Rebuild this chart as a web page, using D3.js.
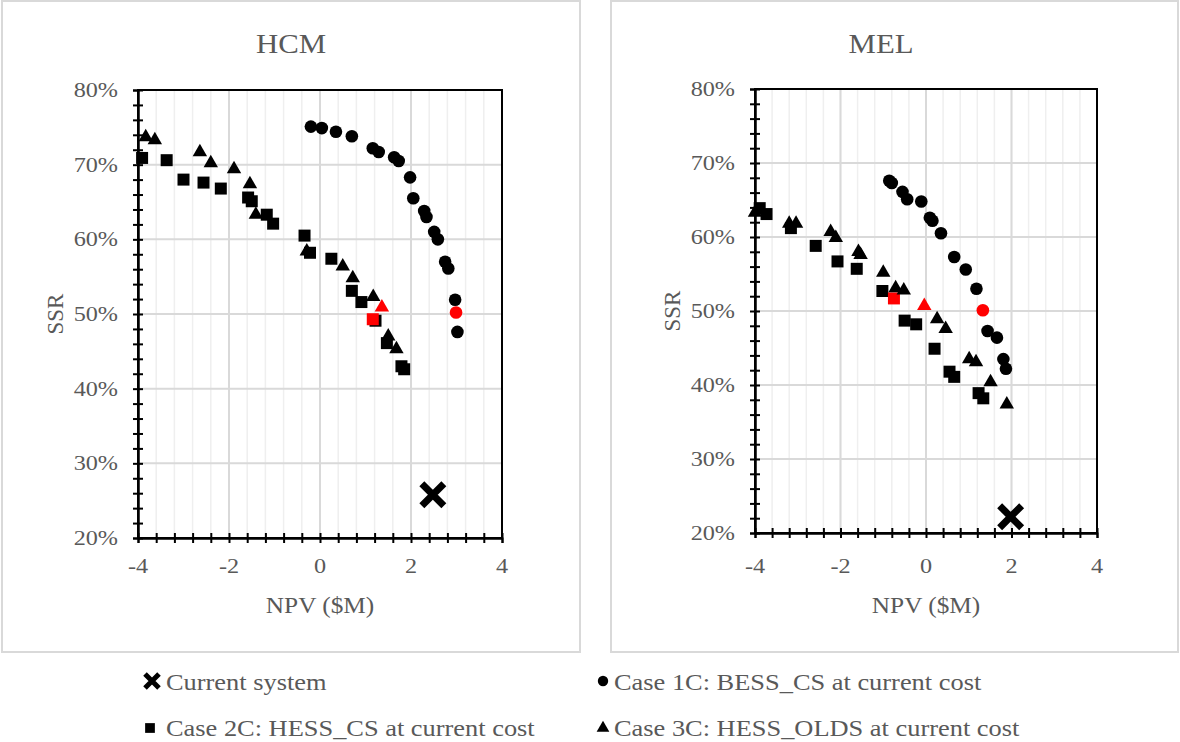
<!DOCTYPE html>
<html>
<head>
<meta charset="utf-8">
<script src="https://cdn.jsdelivr.net/npm/d3@7"></script>
<style>
  body { margin: 0; background: #fff; }
  text { font-family: "Liberation Serif", "Times New Roman", serif; fill: #595959; }
</style>
</head>
<body>
<svg id="chart" width="1180" height="742"></svg>
<script>
// NPV ($M), SSR (fraction)
const hcmCurrent = [[2.48, 0.258]];
const hcmCase1C = [[-0.20,0.751],[0.04,0.749],[0.35,0.744],[0.70,0.738],[1.16,0.722],[1.29,0.717],
  [1.63,0.710],[1.73,0.705],[1.98,0.683],[2.05,0.655],[2.29,0.638],[2.34,0.630],[2.51,0.610],
  [2.59,0.600],[2.75,0.570],[2.82,0.561],[2.97,0.519],[3.02,0.476]];
const hcmCase1CRed = [[2.99,0.502]];
const hcmCase2C = [[-3.91,0.709],[-3.37,0.706],[-3.00,0.680],[-2.56,0.676],[-2.18,0.668],[-1.58,0.656],
  [-1.50,0.651],[-1.17,0.633],[-1.03,0.621],[-0.34,0.605],[-0.22,0.582],[0.25,0.574],[0.70,0.531],
  [0.91,0.516],[1.22,0.491],[1.47,0.461],[1.79,0.430],[1.85,0.426]];
const hcmCase2CRed = [[1.16,0.493]];
const hcmCase3C = [[-3.83,0.737],[-3.63,0.733],[-2.64,0.717],[-2.40,0.702],[-1.89,0.694],[-1.54,0.674],
  [-1.41,0.633],[-0.29,0.584],[0.50,0.564],[0.72,0.548],[1.17,0.523],[1.50,0.470],[1.68,0.453]];
const hcmCase3CRed = [[1.36,0.509]];

const melCurrent = [[1.98, 0.222]];
const melCase1C = [[-0.86,0.676],[-0.80,0.673],[-0.55,0.661],[-0.44,0.651],[-0.11,0.648],[0.09,0.626],
  [0.15,0.622],[0.35,0.605],[0.66,0.573],[0.93,0.556],[1.18,0.530],[1.44,0.473],[1.66,0.464],
  [1.81,0.435],[1.87,0.422]];
const melCase1CRed = [[1.33,0.501]];
const melCase2C = [[-3.89,0.639],[-3.73,0.631],[-3.16,0.612],[-2.58,0.588],[-2.07,0.567],[-1.62,0.557],
  [-1.02,0.527],[-0.50,0.487],[-0.23,0.482],[0.20,0.449],[0.55,0.418],[0.66,0.411],[1.23,0.389],[1.34,0.382]];
const melCase2CRed = [[-0.75,0.517]];
const melCase3C = [[-4.00,0.633],[-3.20,0.618],[-3.04,0.618],[-2.23,0.607],[-2.11,0.599],[-1.58,0.580],
  [-1.53,0.576],[-1.00,0.552],[-0.71,0.531],[-0.52,0.528],[0.26,0.489],[0.46,0.476],[1.01,0.435],
  [1.17,0.431],[1.51,0.404],[1.89,0.374]];
const melCase3CRed = [[-0.04,0.507]];

const xTicks = [-4, -2, 0, 2, 4];
const yTicks = [0.2, 0.3, 0.4, 0.5, 0.6, 0.7, 0.8];
const legendLabels = ["Current system", "Case 1C: BESS_CS at current cost",
  "Case 2C: HESS_CS at current cost", "Case 3C: HESS_OLDS at current cost"];

const SX = 1.1; // the source text is a bit wide
const svg = d3.select("#chart");

const panels = [
  { title: "HCM", box: [2, 1, 578, 651], plot: { l: 138, r: 502, t: 90, b: 538 }, titleX: 291,
    labelY: 573, current: hcmCurrent, c1: hcmCase1C, c1r: hcmCase1CRed, c2: hcmCase2C, c2r: hcmCase2CRed,
    c3: hcmCase3C, c3r: hcmCase3CRed },
  { title: "MEL", box: [611, 1, 567, 651], plot: { l: 755, r: 1097, t: 89, b: 533 }, titleX: 881,
    labelY: 573, current: melCurrent, c1: melCase1C, c1r: melCase1CRed, c2: melCase2C, c2r: melCase2CRed,
    c3: melCase3C, c3r: melCase3CRed }
];

function addText(g, x, y, str, size, anchor) {
  return g.append("text")
    .attr("transform", `translate(${x},${y}) scale(${SX},1)`)
    .attr("text-anchor", anchor || "middle")
    .style("font-size", size + "px")
    .text(str);
}

const circle = d3.symbol().type(d3.symbolCircle).size(125);
const square = d3.symbol().type(d3.symbolSquare).size(144);
const triangle = d3.symbol().type(d3.symbolTriangle).size(90);

function drawCross(g, cx, cy, half, w) {
  g.append("path")
    .attr("d", `M${cx - half},${cy - half}L${cx + half},${cy + half}M${cx - half},${cy + half}L${cx + half},${cy - half}`)
    .attr("stroke", "#000").attr("stroke-width", w).attr("fill", "none");
}

panels.forEach(p => {
  const g = svg.append("g");
  g.append("rect")
    .attr("x", p.box[0]).attr("y", p.box[1]).attr("width", p.box[2]).attr("height", p.box[3])
    .attr("fill", "#fff").attr("stroke", "#d9d9d9").attr("stroke-width", 2);

  const x = d3.scaleLinear().domain([-4, 4]).range([p.plot.l, p.plot.r]);
  const y = d3.scaleLinear().domain([0.2, 0.8]).range([p.plot.b, p.plot.t]);
  const minorX = d3.range(-4, 4.001, 0.4);
  const minorY = d3.range(0.2, 0.8001, 0.02);

  // gridlines
  g.selectAll(".vminor").data(minorX).join("line")
    .attr("x1", d => x(d)).attr("x2", d => x(d)).attr("y1", p.plot.t).attr("y2", p.plot.b)
    .attr("stroke", "#efefef").attr("stroke-width", 1.5);
  g.selectAll(".vmajor").data(xTicks).join("line")
    .attr("x1", d => x(d)).attr("x2", d => x(d)).attr("y1", p.plot.t).attr("y2", p.plot.b)
    .attr("stroke", "#d9d9d9").attr("stroke-width", 2);
  g.selectAll(".hmajor").data(yTicks).join("line")
    .attr("y1", d => y(d)).attr("y2", d => y(d)).attr("x1", p.plot.l).attr("x2", p.plot.r)
    .attr("stroke", "#d9d9d9").attr("stroke-width", 2);

  // crossing tick marks
  g.append("g").attr("transform", `translate(0,${p.plot.b})`)
    .call(d3.axisBottom(x).tickValues(minorX).tickSize(5).tickFormat(""))
    .call(a => a.selectAll("line,path").attr("stroke", "#000").attr("stroke-width", 2));
  g.append("g").attr("transform", `translate(0,${p.plot.b})`)
    .call(d3.axisBottom(x).tickValues(minorX).tickSize(-5).tickFormat("").tickSizeOuter(0))
    .call(a => a.selectAll("line,path").attr("stroke", "#000").attr("stroke-width", 2));
  g.append("g").attr("transform", `translate(${p.plot.l},0)`)
    .call(d3.axisLeft(y).tickValues(minorY).tickSize(5).tickFormat(""))
    .call(a => a.selectAll("line,path").attr("stroke", "#000").attr("stroke-width", 2));
  g.append("g").attr("transform", `translate(${p.plot.l},0)`)
    .call(d3.axisLeft(y).tickValues(minorY).tickSize(-5).tickFormat("").tickSizeOuter(0))
    .call(a => a.selectAll("line,path").attr("stroke", "#000").attr("stroke-width", 2));

  // plot frame
  g.append("rect")
    .attr("x", p.plot.l).attr("y", p.plot.t)
    .attr("width", p.plot.r - p.plot.l).attr("height", p.plot.b - p.plot.t)
    .attr("fill", "none").attr("stroke", "#000").attr("stroke-width", 2);

  // tick labels
  xTicks.forEach(v => addText(g, x(v), p.labelY, d3.format("")(v).replace("−", "-"), 22));
  yTicks.forEach(v => addText(g, p.plot.l - 20, y(v) + 7, d3.format(".0%")(v), 22, "end"));

  // titles
  addText(g, p.titleX, 53, p.title, 28);
  addText(g, (p.plot.l + p.plot.r) / 2, 613, "NPV ($M)", 23);
  g.append("text")
    .attr("transform", `translate(${p.plot.l - 75},${(p.plot.t + p.plot.b) / 2}) rotate(-90)`)
    .attr("text-anchor", "middle").style("font-size", "23px").text("SSR");

  // series
  p.current.forEach(d => drawCross(g, x(d[0]), y(d[1]), 11, 7));
  const drawSeries = (data, sym, fill) => g.append("g").selectAll("path").data(data).join("path")
    .attr("d", sym).attr("fill", fill)
    .attr("transform", d => `translate(${x(d[0])},${y(d[1])})`);
  drawSeries(p.c1, circle, "#000");
  drawSeries(p.c1r, circle, "#ff0000");
  drawSeries(p.c2, square, "#000");
  drawSeries(p.c2r, square, "#ff0000");
  drawSeries(p.c3, triangle, "#000");
  drawSeries(p.c3r, triangle, "#ff0000");
});

// legend
const lg = svg.append("g");
drawCross(lg, 152, 681, 7, 5);
addText(lg, 166, 690, legendLabels[0], 24, "start");
lg.append("path").attr("d", d3.symbol().type(d3.symbolCircle).size(85)()).attr("fill", "#000")
  .attr("transform", "translate(603,681)");
addText(lg, 614, 690, legendLabels[1], 24, "start");
lg.append("path").attr("d", d3.symbol().type(d3.symbolSquare).size(95)()).attr("fill", "#000")
  .attr("transform", "translate(150,728)");
addText(lg, 166, 736, legendLabels[2], 24, "start");
lg.append("path").attr("d", d3.symbol().type(d3.symbolTriangle).size(70)()).attr("fill", "#000")
  .attr("transform", "translate(603,728)");
addText(lg, 614, 736, legendLabels[3], 24, "start");
</script>
</body>
</html>
